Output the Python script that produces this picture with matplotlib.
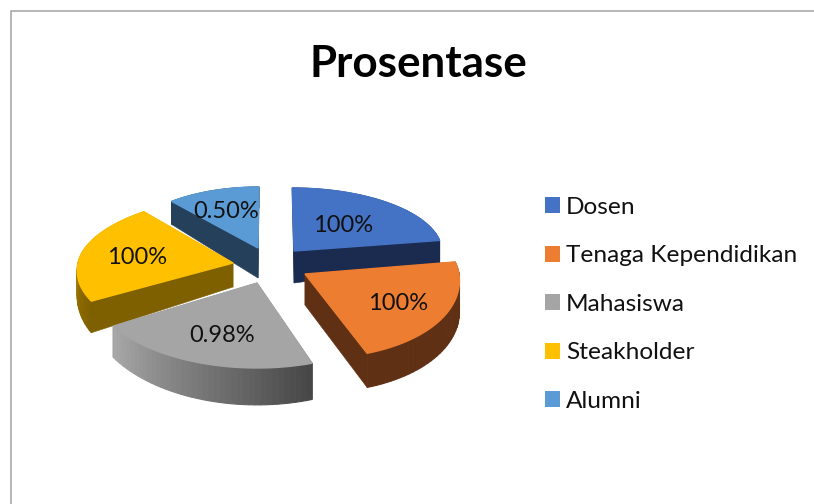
import numpy as np
import matplotlib
matplotlib.use("Agg")
import matplotlib.pyplot as plt
from matplotlib.patches import Polygon, Patch
from matplotlib.colors import to_rgb

# ---- data ----
categories = ["Dosen", "Tenaga Kependidikan", "Mahasiswa", "Steakholder", "Alumni"]
values = [1.0, 1.0, 0.98, 1.0, 0.5]
value_labels = ["100%", "100%", "0.98%", "100%", "0.50%"]
title = "Prosentase"

# ---- styles ----
top_colors = ["#4472C4", "#ED7D31", "#A5A5A5", "#FFC000", "#5B9BD5"]
face_colors = ["#1B2B50", "#5F3014", "#4A4A4A", "#7F6000", "#24405A"]
rim_start = ["#1B2B50", "#5F3014", "#474747", "#7F6000", "#24405A"]
rim_end = ["#1B2B50", "#5F3014", "#A8A8A8", "#C89A00", "#24405A"]
# exploded position and perspective of each slice, in pixels
apex_x = [294, 305, 257, 233, 258]
apex_y = [251, 274, 283, 263, 248]
rad_x = [148, 154, 167, 155, 135]
rad_front = [70, 84, 85, 75, 70]
rad_back = [63, 72, 70, 67, 61]
shear = [0.03, 0.142, 0.0, -0.213, -0.016]
depth0 = [32, 31, 25, 24, 30]
depth_k = [0.8, 0.04, 0.14, 0.2, 0.15]
label_x = [343, 398, 222, 137, 226]
label_y = [225, 304, 336, 258, 212]
draw_order = [4, 0, 3, 1, 2]
FONT = "Lato"

fig = plt.figure(figsize=(8.14, 5.04), dpi=100, facecolor="white")
ax = fig.add_axes([0, 0, 1, 1])
ax.set_xlim(0, 814)
ax.set_ylim(504, 0)
ax.axis("off")

# chart frame (left and top edges only are inside the crop)
ax.plot([10.5, 10.5, 814], [504, 10.5, 10.5], color="#A3A3A3", lw=1.1, zorder=1)

total = sum(values)
edges = np.concatenate([[0], np.cumsum(values)]) / total * 2 * np.pi


def project(i, th):
    c, s = np.cos(th), np.sin(th)
    dy = np.where(c < 0, -c * rad_front[i], -c * rad_back[i])
    dx = rad_x[i] * s + shear[i] * dy
    return apex_x[i] + dx, apex_y[i] + dy, np.maximum(depth0[i] + depth_k[i] * dy, 0)


z = 2
for i in draw_order:
    th = np.linspace(edges[i], edges[i + 1], 40)
    x, y, d = project(i, th)
    ax0, ay0, ad0 = apex_x[i], apex_y[i], depth0[i]
    # the two cut faces
    for j in (0, -1):
        pts = [(ax0, ay0), (x[j], y[j]), (x[j], y[j] + d[j]), (ax0, ay0 + ad0)]
        ax.add_patch(Polygon(pts, closed=True, fc=face_colors[i], ec=face_colors[i], lw=0.4, zorder=z))
    # outer wall, shaded along the arc
    c0, c1 = np.array(to_rgb(rim_start[i])), np.array(to_rgb(rim_end[i]))
    for k in range(len(th) - 1):
        col = c0 + (c1 - c0) * k / (len(th) - 2)
        pts = [(x[k], y[k]), (x[k + 1], y[k + 1]),
               (x[k + 1], y[k + 1] + d[k + 1]), (x[k], y[k] + d[k])]
        ax.add_patch(Polygon(pts, closed=True, fc=col, ec=col, lw=0.8, zorder=z))
    # top surface
    pts = [(ax0, ay0)] + list(zip(x, y))
    ax.add_patch(Polygon(pts, closed=True, fc=top_colors[i], ec=top_colors[i], lw=1.0, zorder=z + 0.5))
    z += 1

for lx, ly, t in zip(label_x, label_y, value_labels):
    ax.text(lx, ly, t, ha="center", va="center", fontsize=17, family=FONT, color="#111111", zorder=20)

ax.text(418, 64, title, ha="center", va="center", fontsize=31.7, family=FONT,
        fontweight="bold", color="black", zorder=20)

handles = [Patch(fc=c, ec="none") for c in top_colors]
ax.legend(handles, categories, loc="upper left", bbox_to_anchor=(535 / 814, 1 - 187 / 504),
          bbox_transform=fig.transFigure, frameon=False, ncol=1,
          prop={"family": FONT, "size": 17.55}, handlelength=0.62, handleheight=0.62,
          handletextpad=0.25, labelspacing=1.13, borderpad=0.4, borderaxespad=0,
          labelcolor="#111111")

fig.savefig("out.png", dpi=100)
